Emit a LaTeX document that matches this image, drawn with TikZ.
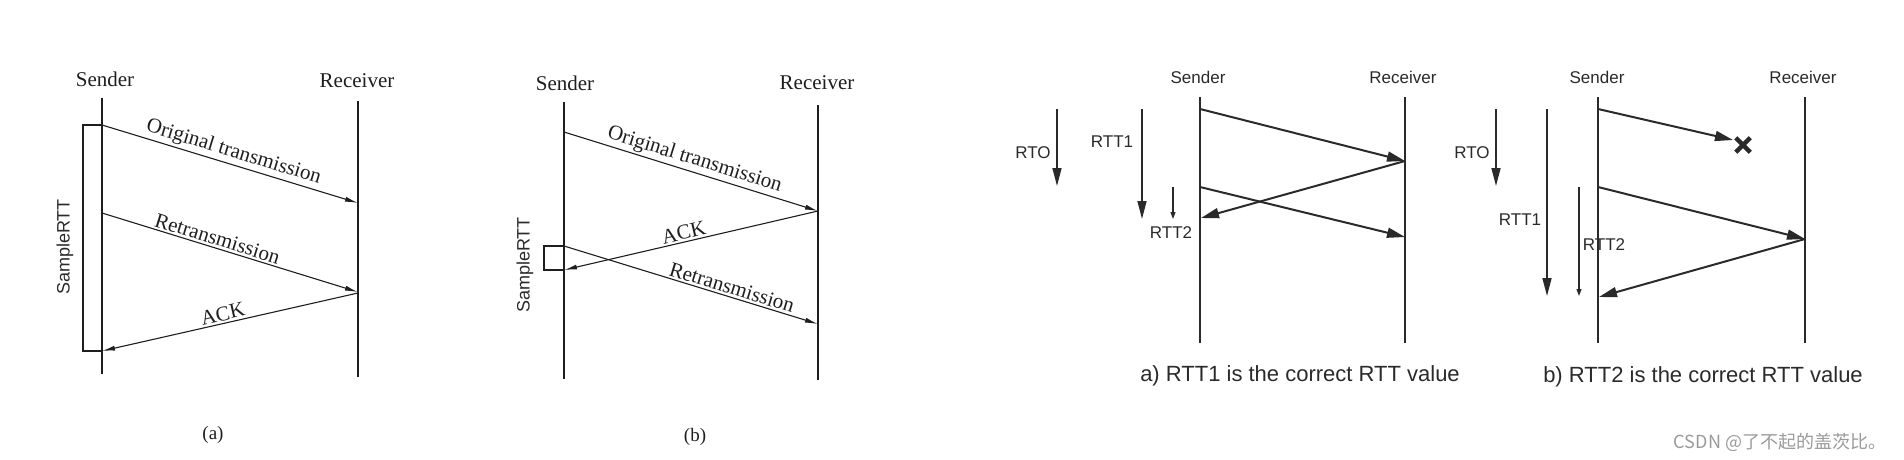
\documentclass[tikz,border=0pt]{standalone}
\usepackage{fontspec}
\setmainfont{Liberation Serif}
\newfontfamily\arialf{Liberation Sans}
\newfontfamily\cjkf{Noto Sans CJK SC}
\usetikzlibrary{arrows.meta,shapes.misc}
\definecolor{ink}{HTML}{1E1E1E}
\definecolor{inkb}{HTML}{2A2A2A}
\definecolor{wm}{HTML}{9A9A9A}
\newcommand\serifbig{\fontsize{21}{25}\selectfont}
\newcommand\serifcap{\fontsize{19}{22}\selectfont}
\newcommand\sanslbl{\arialf\fontsize{17}{20}\selectfont}
\newcommand\sanscap{\arialf\fontsize{22}{26}\selectfont}
\newcommand\sansrtt{\arialf\fontsize{18}{21}\selectfont}
\newcommand\wmfont{\cjkf\fontsize{18}{21}\selectfont}
\begin{document}
\begin{tikzpicture}[x=1pt,y=-1pt,
  lifeA/.style={line width=1.1pt, draw=ink},
  msgA/.style={line width=1.1pt, draw=ink, -{Latex[length=13pt,width=5pt]}},
  lblA/.style={font=\serifbig, text=ink, inner sep=2pt},
  hdrA/.style={font=\serifbig, text=ink, inner sep=0pt},
  capA/.style={font=\serifcap, text=ink, inner sep=0pt},
  rttA/.style={font=\sansrtt, text=inkb, inner sep=0pt, rotate=90},
  lifeC/.style={line width=1.6pt, draw=inkb},
  msgC/.style={line width=2pt, draw=inkb, -{Triangle[length=18pt,width=10pt]}},
  tmrC/.style={line width=1.6pt, draw=inkb, -{Triangle[length=18pt,width=9pt]}},
  tmrS/.style={line width=1.1pt, draw=inkb, -{Triangle[length=7pt,width=5pt]}},
  lblC/.style={font=\sanslbl, text=inkb, inner sep=0pt},
  capC/.style={font=\sanscap, text=inkb, inner sep=0pt}
]
\useasboundingbox (0,0) rectangle (1904,460);

% ---------------- panel (a) ----------------
\node[hdrA] (SAh) at (105,79) {Sender};
\node[hdrA] (RAh) at (357,81) {Receiver};
\coordinate (SAt) at (102,98);  \coordinate (SAb) at (102,374);
\coordinate (RAt) at (358,101); \coordinate (RAb) at (358,377);
\draw[lifeA] (SAt) -- (SAb);
\draw[lifeA] (RAt) -- (RAb);
\coordinate (a1s) at (102,125); \coordinate (a1e) at (358,203);
\coordinate (a2s) at (102,213); \coordinate (a2e) at (358,292);
\coordinate (a3s) at (358,293); \coordinate (a3e) at (102,351);
\draw[msgA] (a1s) -- node[lblA, sloped, above, pos=0.5] {Original transmission} (a1e);
\draw[msgA] (a2s) -- node[lblA, sloped, above, pos=0.44] {Retransmission} (a2e);
\draw[msgA] (a3s) -- node[lblA, sloped, above, pos=0.52] {ACK} (a3e);
\coordinate (bAt) at (83,125); \coordinate (bAb) at (83,351);
\draw[lifeA] (a1s) -- (bAt) -- (bAb) -- (a3e);
\node[rttA] (sA) at (65,247) {SampleRTT};
\node[capA] (cA) at (213,435) {(a)};

% ---------------- panel (b) ----------------
\node[hdrA] (SBh) at (565,83) {Sender};
\node[hdrA] (RBh) at (817,83) {Receiver};
\coordinate (SBt) at (564,102); \coordinate (SBb) at (564,379);
\coordinate (RBt) at (818,105); \coordinate (RBb) at (818,380);
\draw[lifeA] (SBt) -- (SBb);
\draw[lifeA] (RBt) -- (RBb);
\coordinate (b1s) at (564,132); \coordinate (b1e) at (818,211);
\coordinate (b2s) at (818,211); \coordinate (b2e) at (564,270);
\coordinate (b3s) at (564,246); \coordinate (b3e) at (818,324);
\draw[msgA] (b1s) -- node[lblA, sloped, above, pos=0.5] {Original transmission} (b1e);
\draw[msgA] (b2s) -- node[lblA, sloped, above, pos=0.52] {ACK} (b2e);
\draw[msgA] (b3s) -- node[lblA, sloped, above, pos=0.65] {Retransmission} (b3e);
\coordinate (bBt) at (544,246); \coordinate (bBb) at (544,270);
\draw[lifeA] (b3s) -- (bBt) -- (bBb) -- (b2e);
\node[rttA] (sB) at (525,265) {SampleRTT};
\node[capA] (cB) at (695,437) {(b)};

% ---------------- panel right a ----------------
\node[lblC] (SCh) at (1198,77) {Sender};
\node[lblC] (RCh) at (1403,77) {Receiver};
\coordinate (SCt) at (1200,97); \coordinate (SCb) at (1200,343);
\coordinate (RCt) at (1405,97); \coordinate (RCb) at (1405,343);
\draw[lifeC] (SCt) -- (SCb);
\draw[lifeC] (RCt) -- (RCb);
\coordinate (c1s) at (1200,109); \coordinate (c1e) at (1405,161);
\coordinate (c2s) at (1405,161); \coordinate (c2e) at (1201,218);
\coordinate (c3s) at (1200,187); \coordinate (c3e) at (1405,237);
\draw[msgC] (c1s) -- (c1e);
\draw[msgC] (c2s) -- (c2e);
\draw[msgC] (c3s) -- (c3e);
\coordinate (rtoCt) at (1057,109); \coordinate (rtoCb) at (1057,186);
\draw[tmrC] (rtoCt) -- (rtoCb);
\node[lblC] (rtoC) at (1033,153) {RTO};
\coordinate (r1Ct) at (1142,109); \coordinate (r1Cb) at (1142,219);
\draw[tmrC] (r1Ct) -- (r1Cb);
\node[lblC] (r1C) at (1112,142) {RTT1};
\coordinate (r2Ct) at (1173,187); \coordinate (r2Cb) at (1173,219);
\draw[tmrS] (r2Ct) -- (r2Cb);
\node[lblC] (r2C) at (1171,233) {RTT2};
\node[capC] (cC) at (1300,376) {a) RTT1 is the correct RTT value};

% ---------------- panel right b ----------------
\node[lblC] (SDh) at (1597,77) {Sender};
\node[lblC] (RDh) at (1803,77) {Receiver};
\coordinate (SDt) at (1598,97); \coordinate (SDb) at (1598,343);
\coordinate (RDt) at (1805,97); \coordinate (RDb) at (1805,343);
\draw[lifeC] (SDt) -- (SDb);
\draw[lifeC] (RDt) -- (RDb);
\coordinate (d1s) at (1598,109); \coordinate (d1e) at (1733,140);
\draw[msgC] (d1s) -- (d1e);
\node[cross out, draw=inkb, line width=4.5pt, minimum size=10pt, inner sep=0pt] (xD) at (1743,145) {};
\coordinate (d2s) at (1598,187); \coordinate (d2e) at (1805,239);
\coordinate (d3s) at (1805,239); \coordinate (d3e) at (1599,297);
\draw[msgC] (d2s) -- (d2e);
\draw[msgC] (d3s) -- (d3e);
\coordinate (rtoDt) at (1496,109); \coordinate (rtoDb) at (1496,186);
\draw[tmrC] (rtoDt) -- (rtoDb);
\node[lblC] (rtoD) at (1472,153) {RTO};
\coordinate (r1Dt) at (1547,109); \coordinate (r1Db) at (1547,296);
\draw[tmrC] (r1Dt) -- (r1Db);
\node[lblC] (r1D) at (1520,220) {RTT1};
\coordinate (r2Dt) at (1579,187); \coordinate (r2Db) at (1579,296);
\draw[tmrS] (r2Dt) -- (r2Db);
\node[lblC] (r2D) at (1604,245) {RTT2};
\node[capC] (cD) at (1703,377) {b) RTT2 is the correct RTT value};

\node[font=\wmfont, text=wm, inner sep=0pt] (wmk) at (1780,442) {CSDN @了不起的盖茨比。};
\end{tikzpicture}
\end{document}
